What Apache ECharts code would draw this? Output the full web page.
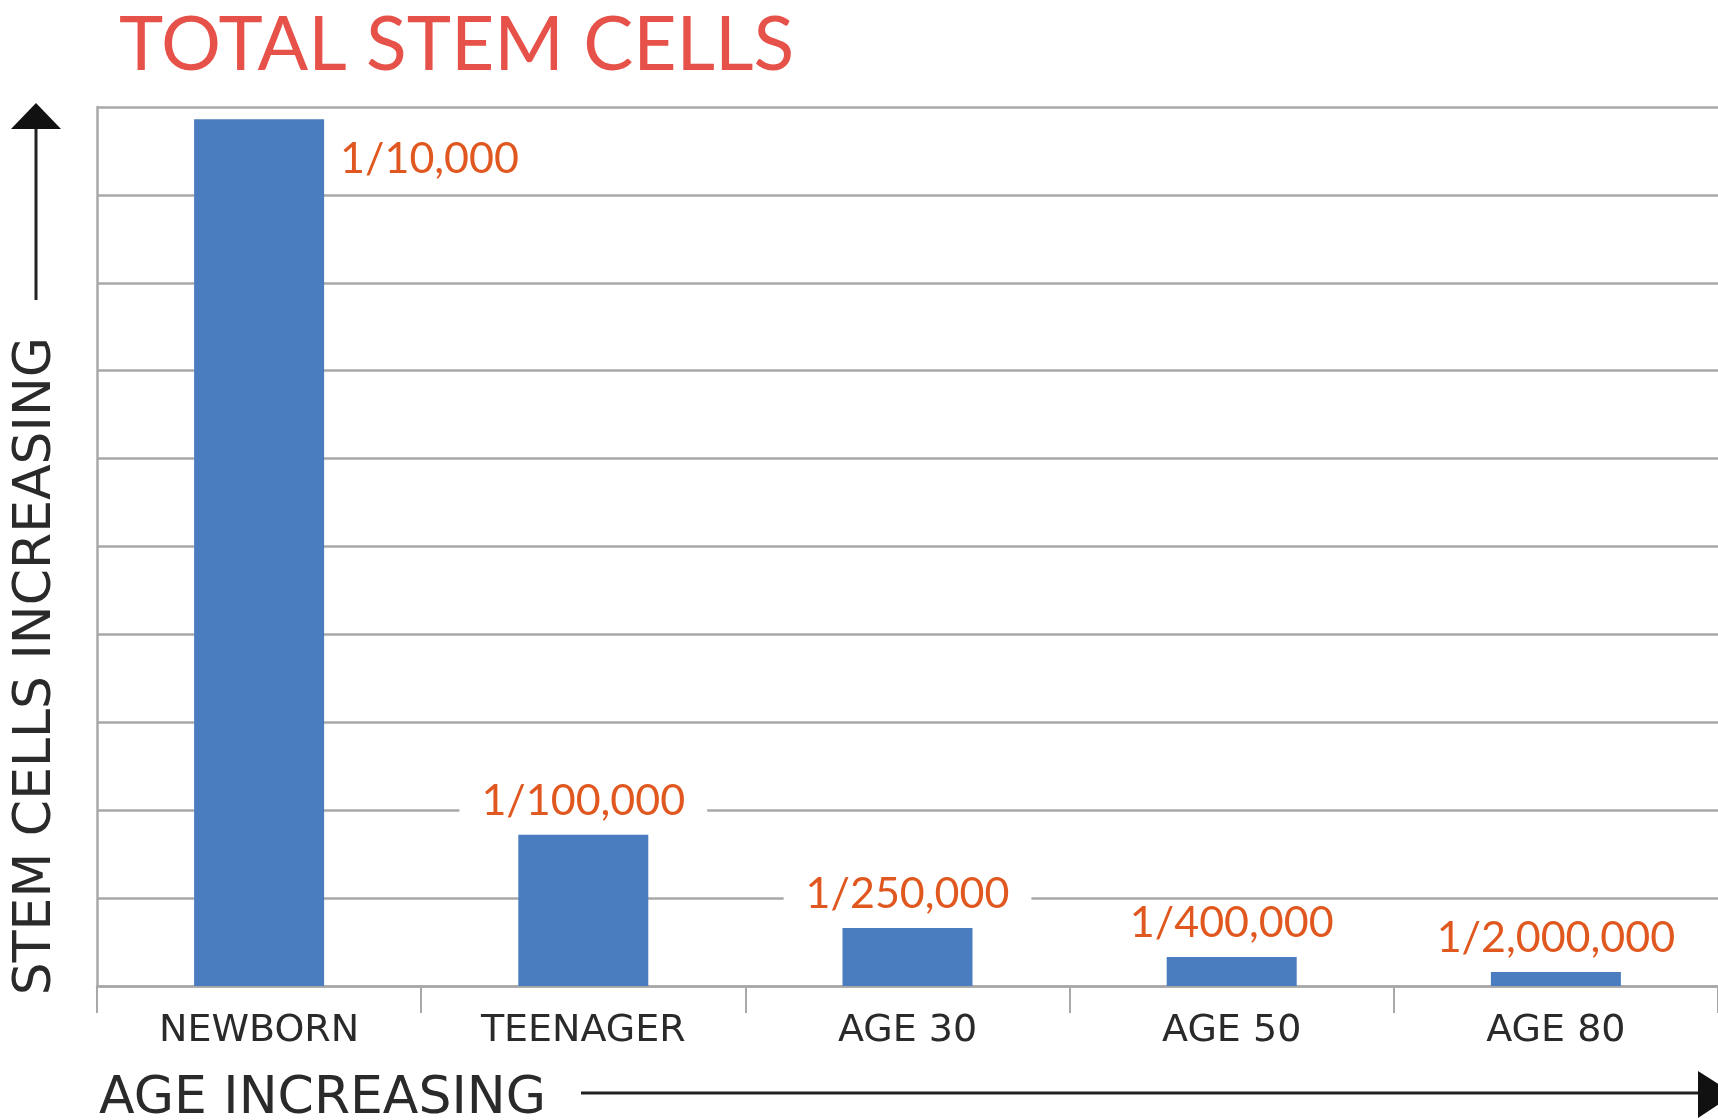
<!DOCTYPE html>
<html>
<head>
<meta charset="utf-8">
<script src="https://cdn.jsdelivr.net/npm/echarts@6/dist/echarts.min.js"></script>
<style>
  html, body { margin: 0; padding: 0; background: #fff; }
  #chart { width: 1718px; height: 1120px; }
</style>
</head>
<body>
<div id="chart"></div>
<script>
  // data (grid units, axis 0..10)
  const categories = ['NEWBORN', 'TEENAGER', 'AGE 30', 'AGE 50', 'AGE 80'];
  const stemCells = [9.86, 1.72, 0.66, 0.33, 0.16];
  const ratioLabels = ['1/10,000', '1/100,000', '1/250,000', '1/400,000', '1/2,000,000'];

  const FONT = 'Lato';
  const WIDE = '"DejaVu Sans"';
  const GRAY = '#a8a8a8';
  const INK = '#2a2a2a';

  const myChart = echarts.init(document.getElementById('chart'));

  const barData = stemCells.map(function (v, i) {
    const item = { value: v };
    if (i === 0) {
      // the first label sits to the right of the bar, near its top
      item.label = {
        position: ['100%', 0],
        align: 'left',
        verticalAlign: 'middle',
        offset: [16, 40],
        backgroundColor: 'transparent',
        padding: 0
      };
    }
    return item;
  });

  const option = {
    backgroundColor: '#fff',
    animation: false,
    title: {
      text: 'TOTAL STEM CELLS',
      left: 119,
      top: 8,
      padding: 0,
      textStyle: {
        fontFamily: FONT,
        fontSize: 75,
        fontWeight: 'normal',
        color: '#e6524a'
      }
    },
    grid: {
      left: 97,
      right: -4,
      top: 107,
      bottom: 134,
      containLabel: false
    },
    xAxis: {
      type: 'category',
      data: categories,
      boundaryGap: true,
      axisLine: { lineStyle: { color: GRAY, width: 2.5 } },
      axisTick: { show: true, length: 27, interval: 0, lineStyle: { color: GRAY, width: 2 } },
      axisLabel: {
        fontFamily: WIDE,
        fontSize: 38,
        color: INK,
        margin: 26,
        interval: 0
      }
    },
    yAxis: {
      type: 'value',
      min: 0,
      max: 10,
      interval: 1,
      axisLine: { show: true, lineStyle: { color: GRAY, width: 2.5 } },
      axisTick: { show: false },
      axisLabel: { show: false },
      splitLine: { lineStyle: { color: GRAY, width: 2.5 } }
    },
    series: [
      {
        type: 'bar',
        data: barData,
        barWidth: 130,
        itemStyle: { color: '#4a7dbf' },
        label: {
          show: true,
          position: 'top',
          distance: 12,
          formatter: function (p) { return ratioLabels[p.dataIndex]; },
          fontFamily: FONT,
          fontSize: 43,
          color: '#e0581f',
          backgroundColor: '#fff',
          padding: [0, 22]
        }
      }
    ],
    graphic: [
      // vertical axis arrow
      {
        type: 'line',
        shape: { x1: 36, y1: 300, x2: 36, y2: 126 },
        style: { stroke: '#222', lineWidth: 3 }
      },
      {
        type: 'polygon',
        shape: { points: [[11, 129], [61, 129], [36, 103]] },
        style: { fill: '#111' }
      },
      {
        type: 'text',
        x: 36,
        y: 666,
        rotation: Math.PI / 2,
        style: {
          text: 'STEM CELLS INCREASING',
          fontFamily: WIDE,
          fontSize: 52,
          fill: INK,
          align: 'center',
          verticalAlign: 'middle'
        }
      },
      // horizontal axis arrow
      {
        type: 'text',
        x: 99,
        y: 1099,
        style: {
          text: 'AGE INCREASING',
          fontFamily: WIDE,
          fontSize: 52,
          fill: INK,
          align: 'left',
          verticalAlign: 'middle'
        }
      },
      {
        type: 'line',
        shape: { x1: 581, y1: 1093, x2: 1705, y2: 1093 },
        style: { stroke: '#222', lineWidth: 3 }
      },
      {
        type: 'polygon',
        shape: { points: [[1698, 1071], [1698, 1118], [1734, 1094]] },
        style: { fill: '#111' }
      }
    ]
  };

  myChart.setOption(option);
</script>
</body>
</html>
